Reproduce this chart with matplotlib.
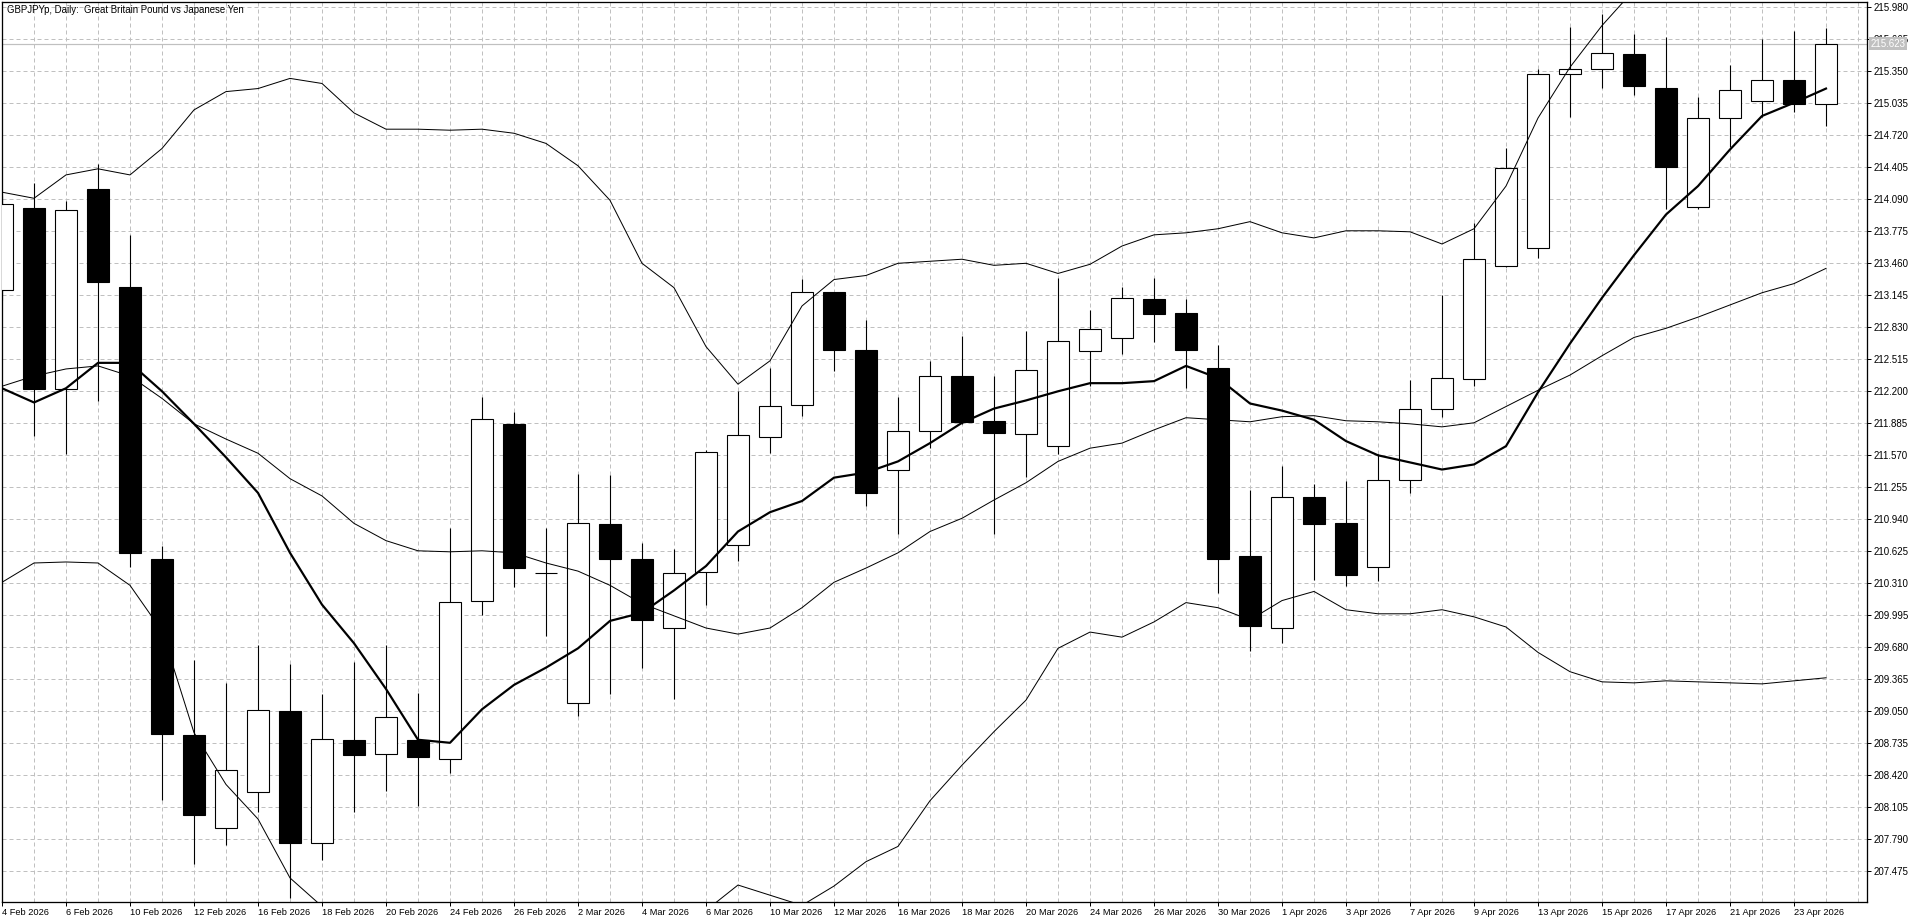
import numpy as np
import matplotlib
matplotlib.use("Agg")
import matplotlib.pyplot as plt

plt.rcParams['font.family'] = ['Liberation Sans', 'DejaVu Sans']

# Daily bars, 4 Feb 2026 .. 24 Apr 2026
days = ['4 Feb', '5 Feb', '6 Feb', '9 Feb', '10 Feb', '11 Feb', '12 Feb', '13 Feb', '16 Feb', '17 Feb',
        '18 Feb', '19 Feb', '20 Feb', '23 Feb', '24 Feb', '25 Feb', '26 Feb', '27 Feb', '2 Mar', '3 Mar',
        '4 Mar', '5 Mar', '6 Mar', '9 Mar', '10 Mar', '11 Mar', '12 Mar', '13 Mar', '16 Mar', '17 Mar',
        '18 Mar', '19 Mar', '20 Mar', '23 Mar', '24 Mar', '25 Mar', '26 Mar', '27 Mar', '30 Mar', '31 Mar',
        '1 Apr', '2 Apr', '3 Apr', '6 Apr', '7 Apr', '8 Apr', '9 Apr', '10 Apr', '13 Apr', '14 Apr',
        '15 Apr', '16 Apr', '17 Apr', '20 Apr', '21 Apr', '22 Apr', '23 Apr', '24 Apr']

opens = [213.20, 214.00, 212.22, 214.19, 213.23, 210.55, 208.82, 207.90, 208.26, 209.05,
         207.75, 208.77, 208.63, 208.77, 208.58, 210.14, 211.88, 210.41, 209.13, 210.89,
         210.55, 209.87, 210.42, 210.69, 211.75, 212.07, 213.18, 212.61, 211.43, 211.81,
         212.35, 211.91, 211.78, 211.66, 212.60, 212.72, 213.11, 212.97, 212.43, 210.58,
         209.87, 211.16, 210.90, 210.47, 211.33, 212.03, 212.32, 213.43, 213.61, 215.32,
         215.37, 215.52, 215.19, 214.01, 214.89, 215.06, 215.26, 215.03]
highs = [214.12, 214.25, 214.07, 214.44, 213.74, 210.68, 209.56, 209.33, 209.70, 209.52,
         209.22, 209.54, 209.70, 209.23, 210.85, 212.14, 212.00, 210.85, 211.39, 211.38,
         210.71, 210.65, 211.62, 212.20, 212.43, 213.31, 213.18, 212.90, 212.14, 212.50,
         212.74, 212.35, 212.79, 213.32, 213.00, 213.23, 213.32, 213.11, 212.66, 211.23,
         211.46, 211.29, 211.32, 211.58, 212.31, 213.15, 213.86, 214.59, 215.37, 215.79,
         215.91, 215.72, 215.69, 215.10, 215.41, 215.67, 215.75, 215.78]
lows = [213.10, 211.76, 211.58, 212.10, 210.47, 208.18, 207.55, 207.73, 208.06, 207.21,
        207.59, 208.06, 208.27, 208.12, 208.44, 210.00, 210.27, 209.79, 209.00, 209.22,
        209.48, 209.17, 210.10, 210.53, 211.59, 211.96, 212.40, 211.07, 210.80, 211.64,
        211.88, 210.80, 211.36, 211.58, 212.25, 212.57, 212.69, 212.23, 210.21, 209.64,
        209.72, 210.34, 210.28, 210.33, 211.20, 211.95, 212.25, 213.42, 213.51, 214.90,
        215.19, 215.12, 213.99, 213.99, 214.60, 214.90, 214.95, 214.81]
closes = [214.04, 212.22, 213.98, 213.28, 210.61, 208.83, 208.03, 208.47, 209.06, 207.75,
          208.78, 208.62, 208.99, 208.60, 210.13, 211.93, 210.46, 210.41, 210.90, 210.55,
          209.95, 210.41, 211.60, 211.77, 212.06, 213.18, 212.61, 211.20, 211.81, 212.35,
          211.90, 211.79, 212.41, 212.70, 212.81, 213.12, 212.96, 212.61, 210.55, 209.89,
          211.16, 210.89, 210.39, 211.33, 212.03, 212.33, 213.50, 214.40, 215.32, 215.37,
          215.53, 215.21, 214.41, 214.89, 215.17, 215.26, 215.03, 215.623]

# moving average (thick line)
ma = [212.23, 212.09, 212.23, 212.48, 212.48, 212.20, 211.88, 211.55, 211.20, 210.61,
      210.10, 209.72, 209.27, 208.77, 208.74, 209.07, 209.31, 209.48, 209.67, 209.94,
      210.02, 210.24, 210.48, 210.82, 211.01, 211.12, 211.35, 211.40, 211.51, 211.69,
      211.89, 212.03, 212.11, 212.20, 212.28, 212.28, 212.30, 212.45, 212.33, 212.08,
      212.01, 211.92, 211.71, 211.57, 211.50, 211.43, 211.48, 211.66, 212.19, 212.67,
      213.12, 213.54, 213.94, 214.22, 214.58, 214.91, 215.04, 215.18]

# bollinger bands (thin lines)
bb_upper = [214.16, 214.10, 214.33, 214.39, 214.33, 214.59, 214.97, 215.15, 215.18, 215.28,
            215.23, 214.94, 214.78, 214.78, 214.77, 214.78, 214.74, 214.64, 214.42, 214.08,
            213.46, 213.22, 212.64, 212.27, 212.50, 213.04, 213.30, 213.34, 213.46, 213.48,
            213.50, 213.44, 213.46, 213.36, 213.45, 213.63, 213.74, 213.76, 213.80, 213.87,
            213.76, 213.71, 213.78, 213.78, 213.77, 213.65, 213.80, 214.22, 214.89, 215.39,
            215.80, 216.15, 216.40, 216.50, 216.55, 216.55, 216.55, 216.55]
bb_middle = [212.25, 212.35, 212.42, 212.45, 212.35, 212.13, 211.88, 211.73, 211.59, 211.34,
             211.17, 210.90, 210.73, 210.63, 210.62, 210.63, 210.61, 210.51, 210.43, 210.29,
             210.11, 209.99, 209.87, 209.81, 209.87, 210.07, 210.32, 210.46, 210.61, 210.82,
             210.95, 211.13, 211.30, 211.51, 211.64, 211.69, 211.82, 211.94, 211.92, 211.90,
             211.95, 211.96, 211.91, 211.90, 211.88, 211.85, 211.89, 212.05, 212.21, 212.36,
             212.55, 212.73, 212.82, 212.93, 213.05, 213.17, 213.26, 213.41]
bb_lower = [210.32, 210.51, 210.52, 210.51, 210.29, 209.84, 208.84, 208.33, 207.99, 207.41,
            207.13, 206.85, 206.65, 206.55, 206.50, 206.55, 206.65, 206.75, 206.85, 206.95,
            207.00, 207.05, 207.09, 207.34, 207.24, 207.14, 207.33, 207.57, 207.72, 208.17,
            208.52, 208.85, 209.16, 209.67, 209.83, 209.78, 209.93, 210.12, 210.07, 209.95,
            210.14, 210.23, 210.05, 210.01, 210.01, 210.05, 209.98, 209.88, 209.63, 209.44,
            209.34, 209.33, 209.35, 209.34, 209.33, 209.32, 209.35, 209.38]

price_now = 215.623
y_ticks = [207.475 + 0.315 * k for k in range(28)]
title = "GBPJPYp, Daily:  Great Britain Pound vs Japanese Yen"

PX = 0.72  # one pixel in points at dpi 100
grid_col = '#c0c0c0'

fig = plt.figure(figsize=(19.2, 9.23), dpi=100)
ax = fig.add_axes([2 / 1920, 21 / 923, 1865 / 1920, 900 / 923])
ax.set_xlim(0, 1865 / 32)
ax.set_ylim(207.173, 216.032)

x = np.arange(len(days))
o = np.array(opens)
c = np.array(closes)
up = c >= o

# candles
ax.vlines(x, lows, highs, color='black', lw=1.1 * PX, zorder=2)
ax.bar(x, np.abs(c - o), bottom=np.minimum(o, c), width=0.69,
       color=np.where(up, 'white', 'black'), edgecolor='black', lw=1.1 * PX, zorder=3)

# indicators
for band in (bb_upper, bb_middle, bb_lower):
    ax.plot(x, band, color='black', lw=1.0 * PX, zorder=4)
ax.plot(x, ma, color='black', lw=2.2 * PX, zorder=5)

# current price line + label
ax.axhline(price_now, color=grid_col, lw=1.2 * PX, zorder=1.5)
ax.annotate(f"{price_now:.3f}", xy=(1, price_now), xycoords=('axes fraction', 'data'),
            xytext=(2.5, 0), textcoords='offset points', fontsize=7, color='white',
            va='center', ha='left', annotation_clip=False, zorder=10,
            bbox=dict(boxstyle='square,pad=0.15', fc=grid_col, ec='none'))

# axes, ticks, grid
ax.yaxis.tick_right()
ax.set_yticks(y_ticks, [f"{v:.3f}" for v in y_ticks])
ax.set_xticks(x[::2], [d + ' 2026' for d in days[::2]])
ax.set_xticks(np.arange(0, 59), minor=True)
for lbl in ax.get_xticklabels():
    lbl.set_ha('left')
ax.tick_params(axis='both', which='major', direction='out', length=4 * PX, width=PX, pad=1.5)
ax.tick_params(axis='y', labelsize=7)
ax.tick_params(axis='x', labelsize=6.7)
ax.tick_params(axis='x', which='minor', length=0)
ax.grid(True, axis='x', which='both', color=grid_col, lw=PX, linestyle=(0, (4, 3)), zorder=0)
ax.grid(True, axis='y', which='major', color=grid_col, lw=PX, linestyle=(0, (4, 3)), zorder=0)
ax.set_axisbelow(True)
for s in ax.spines.values():
    s.set_linewidth(1.3 * PX)

fig.text(7 / 1920, 1 - 10 / 923, title, fontsize=6.9, va='center', ha='left')

fig.savefig('out.png', dpi=100, facecolor='white')
